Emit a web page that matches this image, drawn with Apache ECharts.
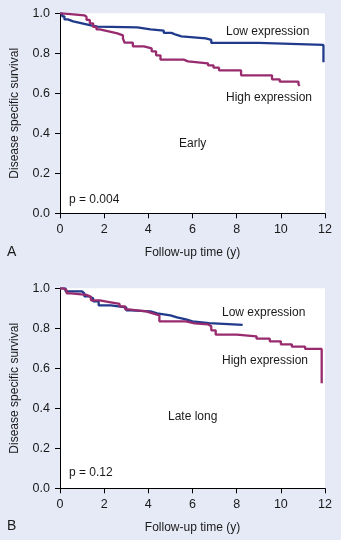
<!DOCTYPE html>
<html>
<head>
<meta charset="utf-8">
<script src="https://cdn.jsdelivr.net/npm/echarts@6/dist/echarts.min.js"></script>
<style>
html,body{margin:0;padding:0;background:#e6e9f6;}
#chart{width:341px;height:540px;}
</style>
</head>
<body>
<div id="chart"></div>
<script>
// Panel A (Early) – Kaplan–Meier steps [time (y), survival]
const earlyLow = [[0,1.0],[0.1,0.985],[0.2,0.97],[0.35,0.96],[0.6,0.95],[1.0,0.94],[1.4,0.933],[1.7,0.93],[3.5,0.92],[4.1,0.913],[4.7,0.902],[5.05,0.893],[5.25,0.885],[5.5,0.875],[6.6,0.867],[6.85,0.852],[9.0,0.842],[11.93,0.755]];
const earlyHigh = [[0,1.0],[0.1,0.99],[1.1,0.983],[1.2,0.967],[1.35,0.95],[1.5,0.932],[1.65,0.92],[1.8,0.91],[2.2,0.9],[2.6,0.89],[2.85,0.875],[2.92,0.853],[3.3,0.835],[3.8,0.825],[4.15,0.81],[4.35,0.79],[4.55,0.768],[5.6,0.76],[5.8,0.75],[6.7,0.74],[6.95,0.728],[7.2,0.715],[8.2,0.69],[9.6,0.67],[9.95,0.658],[10.8,0.645],[10.85,0.637]];
// Panel B (Late long)
const lateLow = [[0,1.0],[0.25,0.985],[1.0,0.975],[1.1,0.96],[1.3,0.95],[1.5,0.935],[1.75,0.915],[2.3,0.905],[3.0,0.89],[3.2,0.885],[4.1,0.875],[4.4,0.865],[5.0,0.855],[5.3,0.845],[5.7,0.835],[6.0,0.826],[6.75,0.817],[8.27,0.817]];
const lateHigh = [[0,1.0],[0.15,0.99],[0.3,0.975],[0.5,0.967],[1.2,0.957],[1.4,0.94],[1.8,0.93],[2.3,0.922],[2.7,0.91],[2.95,0.895],[3.1,0.885],[3.9,0.875],[4.2,0.865],[4.5,0.835],[5.7,0.825],[6.1,0.82],[6.7,0.81],[6.85,0.79],[7.05,0.768],[8.0,0.76],[8.9,0.748],[9.5,0.735],[10.0,0.72],[10.5,0.708],[11.1,0.697],[11.85,0.525]];

const xTicks = [0,2,4,6,8,10,12];
const yTicks = [0.0,0.2,0.4,0.6,0.8,1.0];
const xTitle = 'Follow-up time (y)';
const yTitle = 'Disease specific survival';

const BLUE = '#203a8c';
const MAG = '#982a6e';
const TXT = '#1a1a1a';
const FONT = 'Liberation Sans, Arial, sans-serif';

function xAx(gi){
  return {
    gridIndex: gi, type:'value', min:xTicks[0], max:xTicks[xTicks.length-1], interval:2,
    name: xTitle, nameLocation:'middle', nameGap:33,
    nameTextStyle:{color:TXT, fontSize:12, fontFamily:FONT},
    axisLine:{show:true, lineStyle:{color:'#000', width:1}},
    axisTick:{show:true, length:5, lineStyle:{color:'#000'}},
    axisLabel:{color:TXT, fontSize:12.5, fontFamily:FONT, margin:10},
    splitLine:{show:false}
  };
}
function yAx(gi){
  return {
    gridIndex: gi, type:'value', min:yTicks[0], max:yTicks[yTicks.length-1], interval:0.2,
    name: yTitle, nameLocation:'middle', nameGap:39, nameRotate:90,
    nameTextStyle:{color:TXT, fontSize:12, fontFamily:FONT},
    axisLine:{show:true, lineStyle:{color:'#000', width:1}},
    axisTick:{show:true, length:5, lineStyle:{color:'#000'}},
    axisLabel:{color:TXT, fontSize:12.5, fontFamily:FONT, margin:10, formatter:v=>v.toFixed(1)},
    splitLine:{show:false}
  };
}
function line(data, color, gi){
  return {type:'line', step:'end', data:data, xAxisIndex:gi, yAxisIndex:gi,
    showSymbol:false, symbol:'none', lineStyle:{color:color, width:2.3}, animation:false, silent:true};
}
function txt(x,y,s,opts){
  return {type:'text', x:x, y:y, style:Object.assign({text:s, fill:TXT, fontSize:12, fontFamily:FONT, textVerticalAlign:'middle'}, opts||{})};
}

const chart = echarts.init(document.getElementById('chart'), null, {renderer:'canvas'});
chart.setOption({
  backgroundColor:'#e6e9f6',
  animation:false,
  grid:[
    {left:60, top:13.3, width:265, height:200, show:true, backgroundColor:'#fff', borderWidth:0},
    {left:60, top:288.3, width:265, height:200, show:true, backgroundColor:'#fff', borderWidth:0}
  ],
  xAxis:[xAx(0), xAx(1)],
  yAxis:[yAx(0), yAx(1)],
  series:[
    line(earlyLow, BLUE, 0), line(earlyHigh, MAG, 0),
    line(lateLow, BLUE, 1), line(lateHigh, MAG, 1)
  ],
  graphic:[
    txt(226,32,'Low expression'),
    txt(226,98,'High expression'),
    txt(179,144,'Early'),
    txt(69,200,'p = 0.004'),
    txt(7,252,'A',{fontSize:14}),
    txt(222,313,'Low expression'),
    txt(222,361,'High expression'),
    txt(168,417,'Late long'),
    txt(69,473,'p = 0.12'),
    txt(7,526,'B',{fontSize:14})
  ]
});
</script>
</body>
</html>
